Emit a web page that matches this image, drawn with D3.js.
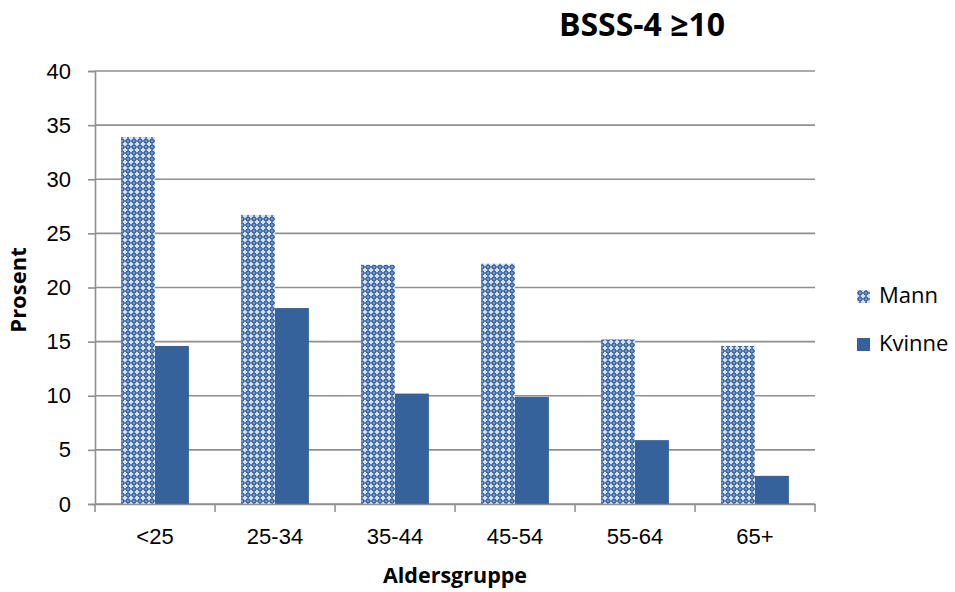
<!DOCTYPE html>
<html>
<head>
<meta charset="utf-8">
<script src="https://cdn.jsdelivr.net/npm/d3@7"></script>
<style>
  body { margin: 0; background: #fff; }
  svg { display: block; font-family: "Open Sans", "Noto Sans", sans-serif; }
</style>
</head>
<body>
<svg id="chart" width="955" height="592"></svg>
<script>
// Age groups and share (%) with BSSS-4 score of 10 or more
const categories = ["<25", "25-34", "35-44", "45-54", "55-64", "65+"];
const seriesNames = ["Mann", "Kvinne"];
const mannValues = [33.9, 26.7, 22.1, 22.2, 15.2, 14.6];
const kvinneValues = [14.6, 18.1, 10.2, 9.9, 5.9, 2.6];
const yTicks = [0, 5, 10, 15, 20, 25, 30, 35, 40];

const svg = d3.select("#chart");
const margin = { left: 95, right: 140, top: 71, bottom: 88 };
const W = 955, H = 592;

const x = d3.scaleBand().domain(categories)
  .range([margin.left, W - margin.right]).paddingInner(0).paddingOuter(0);
const x1 = d3.scaleBand().domain(seriesNames)
  .range([0, x.bandwidth()]).paddingInner(0).paddingOuter(0.77);
const y = d3.scaleLinear().domain([0, 40]).range([H - margin.bottom, margin.top]);

// Dotted fill for the male series
const defs = svg.append("defs");
const pat = defs.append("pattern").attr("id", "mannPattern")
  .attr("patternUnits", "userSpaceOnUse").attr("width", 6).attr("height", 6);
pat.append("rect").attr("width", 6).attr("height", 6).attr("fill", "#d3deee");
pat.append("rect").attr("x", 2).attr("y", 0).attr("width", 2).attr("height", 6).attr("fill", "#5a80b6");
pat.append("rect").attr("x", 0).attr("y", 2).attr("width", 6).attr("height", 2).attr("fill", "#5a80b6");
pat.append("rect").attr("x", 1).attr("y", 1).attr("width", 4).attr("height", 4).attr("fill", "#4169a4");
pat.append("rect").attr("x", 2).attr("y", 2).attr("width", 2).attr("height", 2).attr("fill", "#7896c4");

const colors = { Mann: "url(#mannPattern)", Kvinne: "#35629a" };

// Horizontal gridlines
svg.append("g").selectAll("line").data(yTicks).join("line")
  .attr("x1", margin.left).attr("x2", W - margin.right)
  .attr("y1", d => y(d)).attr("y2", d => y(d))
  .attr("stroke", "#8f8f8f").attr("stroke-width", 1.6);

// Bars
const rows = categories.map((c, i) => ({ cat: c, Mann: mannValues[i], Kvinne: kvinneValues[i] }));
const groups = svg.append("g").selectAll("g").data(rows).join("g")
  .attr("transform", d => `translate(${x(d.cat)},0)`);
groups.selectAll("rect").data(d => seriesNames.map(s => ({ s, v: d[s] }))).join("rect")
  .attr("x", d => x1(d.s)).attr("width", x1.bandwidth())
  .attr("y", d => y(d.v)).attr("height", d => y(0) - y(d.v))
  .attr("fill", d => colors[d.s]);

// Y axis
const yAxis = svg.append("g").attr("transform", `translate(${margin.left},0)`)
  .call(d3.axisLeft(y).tickValues(yTicks).tickSize(7).tickPadding(17));
yAxis.select(".domain").attr("stroke", "#8f8f8f").attr("stroke-width", 1.6);
yAxis.selectAll(".tick line").attr("stroke", "#8f8f8f").attr("stroke-width", 1.6);
yAxis.selectAll("text").attr("font-size", 22).attr("fill", "#000");

// X axis with tick marks at category boundaries
const xAxis = svg.append("g").attr("transform", `translate(0,${y(0)})`)
  .call(d3.axisBottom(x).tickSize(0).tickPadding(24));
xAxis.select(".domain").attr("stroke", "#8f8f8f").attr("stroke-width", 1.6);
xAxis.selectAll("text").attr("font-size", 22).attr("fill", "#000");
const bounds = categories.map(c => x(c)).concat([x(categories[categories.length - 1]) + x.bandwidth()]);
xAxis.append("g").selectAll("line").data(bounds).join("line")
  .attr("x1", d => d).attr("x2", d => d).attr("y1", 0).attr("y2", 8)
  .attr("stroke", "#8f8f8f").attr("stroke-width", 1.6);

// Title and axis titles
svg.append("text").attr("x", 642).attr("y", 36).attr("text-anchor", "middle")
  .attr("font-size", 32).attr("font-weight", "bold").text("BSSS-4 ≥10");
svg.append("text").attr("x", 455).attr("y", 583).attr("text-anchor", "middle")
  .attr("font-size", 21.5).attr("font-weight", "bold").text("Aldersgruppe");
svg.append("text").attr("transform", "translate(26,290) rotate(-90)").attr("text-anchor", "middle")
  .attr("font-size", 22).attr("font-weight", "bold").text("Prosent");

// Legend
const legend = svg.append("g").selectAll("g").data(seriesNames).join("g")
  .attr("transform", (d, i) => `translate(857,${290 + i * 48})`);
legend.append("rect").attr("width", 13).attr("height", 13).attr("fill", d => colors[d]);
legend.append("text").attr("x", 22).attr("y", 13)
  .attr("font-size", 22).text(d => d);
</script>
</body>
</html>
